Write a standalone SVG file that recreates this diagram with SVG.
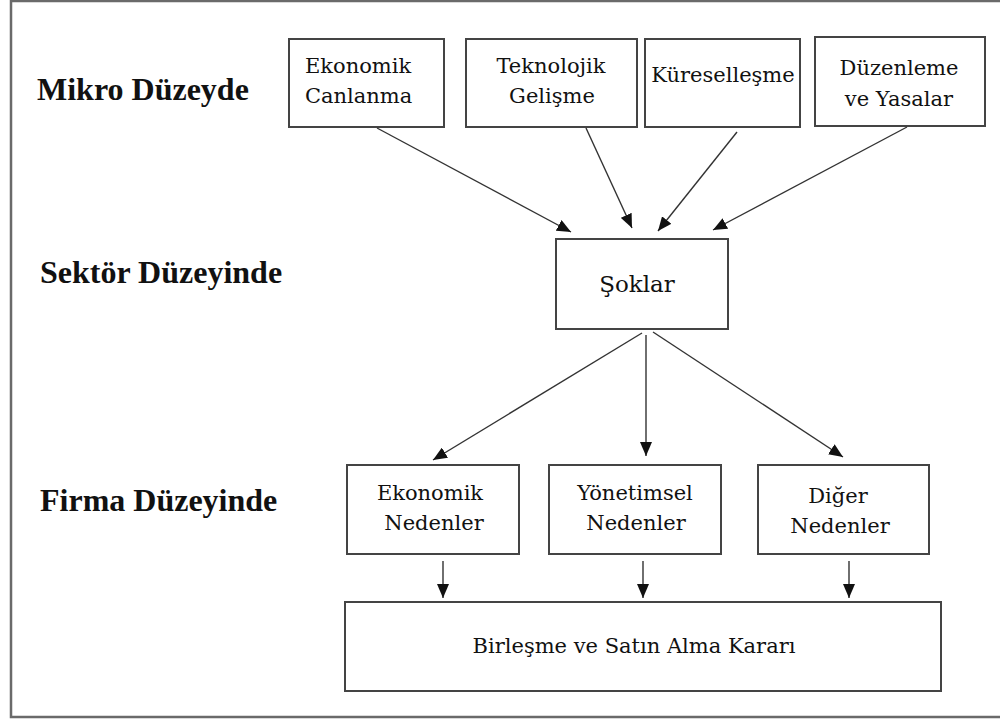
<svg xmlns="http://www.w3.org/2000/svg" width="1000" height="720" viewBox="0 0 1000 720">
<defs>
<style>
.frame{fill:none;stroke:#6a6a6a;stroke-width:2.5}
.box{fill:#fff;stroke:#444;stroke-width:2}
.t{font-family:"DejaVu Serif","Liberation Serif",serif;font-size:21px;fill:#111}
.c{text-anchor:middle}
.lbl{font-family:"Liberation Serif",serif;font-weight:bold;font-size:32px;fill:#111}
.ar{fill:none;stroke:#333;stroke-width:1.4;marker-end:url(#ah)}
</style>
<marker id="ah" markerUnits="userSpaceOnUse" markerWidth="14" markerHeight="12" refX="14" refY="6" orient="auto">
<path d="M0,0 L14,6 L0,12 z" fill="#111"/>
</marker>
</defs>
<rect width="1000" height="720" fill="#fff"/>
<rect class="frame" x="11" y="1" width="1000" height="716"/>
<g id="labels">
<text class="lbl" x="37" y="100">Mikro Düzeyde</text>
<text class="lbl" x="40" y="283">Sektör Düzeyinde</text>
<text class="lbl" x="40" y="511">Firma Düzeyinde</text>
</g>
<g id="ekonomik-canlanma">
<rect class="box" x="289" y="39" width="155" height="88"/>
<text class="t" x="305" y="73">Ekonomik</text>
<text class="t" x="305" y="103">Canlanma</text>
</g>
<g id="teknolojik-gelisme">
<rect class="box" x="466" y="39" width="171" height="88"/>
<text class="t c" x="551" y="73">Teknolojik</text>
<text class="t c" x="552" y="103">Gelişme</text>
</g>
<g id="kuresellesme">
<rect class="box" x="645" y="39" width="155" height="88"/>
<text class="t c" x="723" y="82">Küreselleşme</text>
</g>
<g id="duzenleme">
<rect class="box" x="815" y="37" width="170" height="89"/>
<text class="t c" x="899" y="75">Düzenleme</text>
<text class="t c" x="899" y="106">ve Yasalar</text>
</g>
<g id="soklar">
<rect class="box" x="556" y="239" width="172" height="90"/>
<text class="t c" x="637" y="292" style="font-size:23px">Şoklar</text>
</g>
<g id="ekonomik-nedenler">
<rect class="box" x="347" y="465" width="172" height="89"/>
<text class="t c" x="430" y="500">Ekonomik</text>
<text class="t c" x="434" y="530">Nedenler</text>
</g>
<g id="yonetimsel-nedenler">
<rect class="box" x="549" y="465" width="172" height="89"/>
<text class="t c" x="635" y="500">Yönetimsel</text>
<text class="t c" x="636" y="530">Nedenler</text>
</g>
<g id="diger-nedenler">
<rect class="box" x="758" y="465" width="171" height="89"/>
<text class="t c" x="838" y="503">Diğer</text>
<text class="t c" x="840" y="533">Nedenler</text>
</g>
<g id="birlesme">
<rect class="box" x="345" y="602" width="596" height="89"/>
<text class="t c" x="634" y="653">Birleşme ve Satın Alma Kararı</text>
</g>
<g id="connectors">
<line class="ar" x1="377" y1="128" x2="571" y2="232"/>
<line class="ar" x1="586" y1="128" x2="632" y2="228"/>
<line class="ar" x1="737" y1="132" x2="658" y2="231"/>
<line class="ar" x1="907" y1="127" x2="713" y2="230"/>
<line class="ar" x1="642" y1="333" x2="433" y2="460"/>
<line class="ar" x1="646" y1="335" x2="646" y2="456"/>
<line class="ar" x1="653" y1="332" x2="843" y2="457"/>
<line class="ar" x1="443" y1="561" x2="443" y2="598"/>
<line class="ar" x1="643" y1="561" x2="643" y2="598"/>
<line class="ar" x1="849" y1="561" x2="849" y2="598"/>
</g>
</svg>
